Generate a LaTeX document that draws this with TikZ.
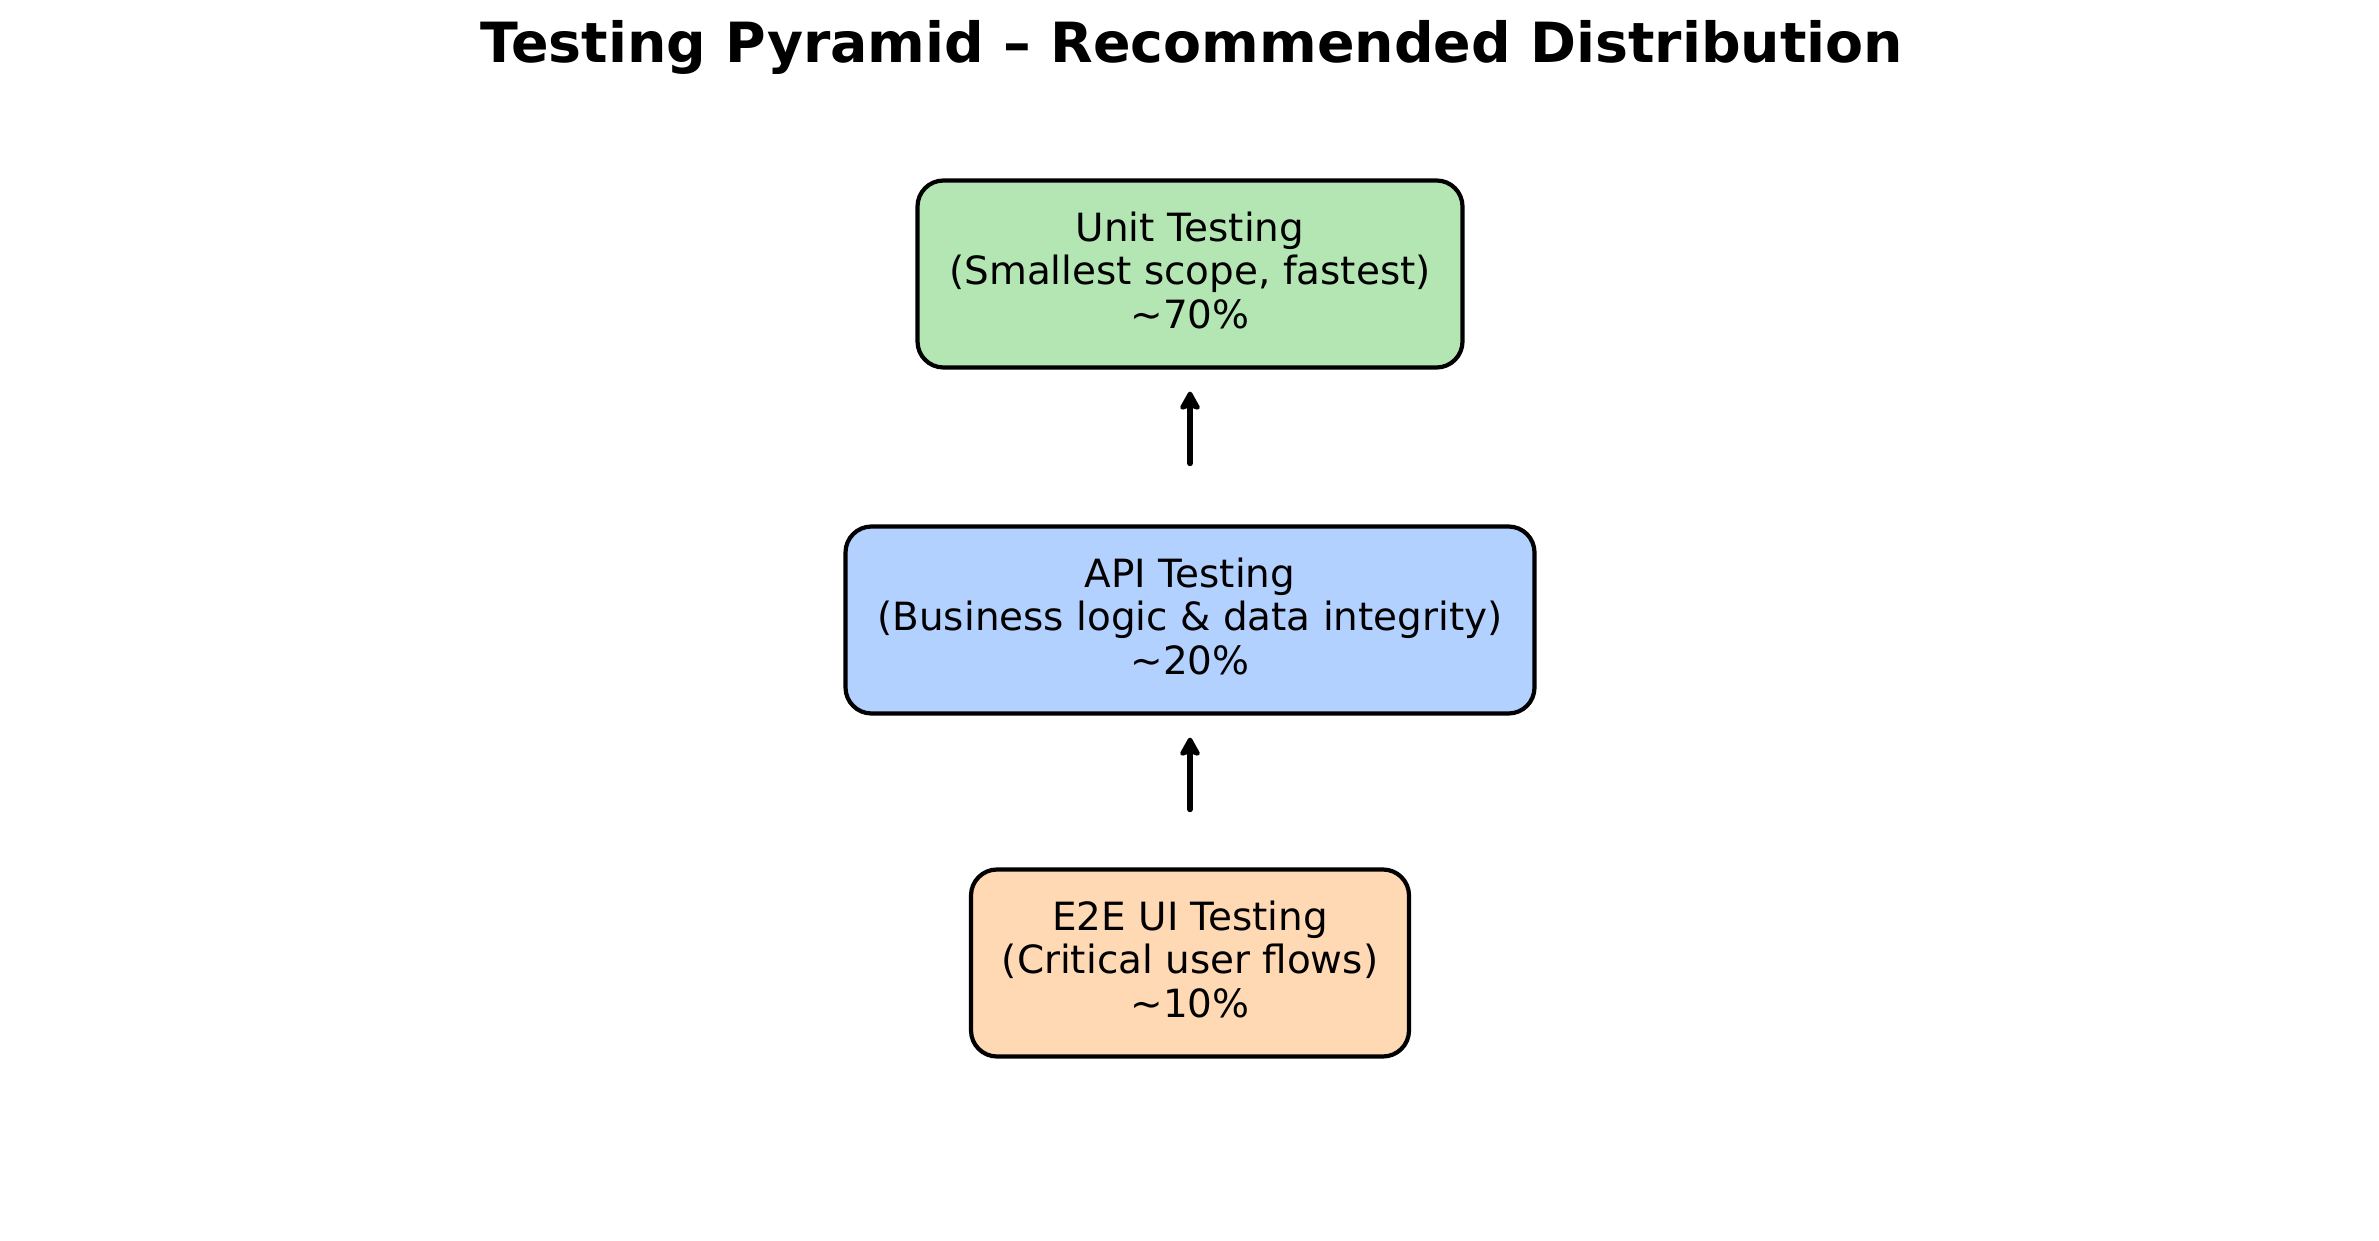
\documentclass[tikz,border=0pt]{standalone}
\usepackage{fontspec}
\setmainfont{DejaVu Sans}
\usetikzlibrary{arrows.meta}
\definecolor{unitgreen}{HTML}{B3E6B3}
\definecolor{apiblue}{HTML}{B3D1FF}
\definecolor{e2eorange}{HTML}{FFD9B3}
\tikzset{
  layerbox/.style={draw=black, line width=4.2pt, rounded corners=26pt,
    align=center, inner sep=0pt, minimum height=187pt, text depth=8pt,
    font=\fontsize{38.9}{43.4}\selectfont},
  uparrow/.style={line width=5.6pt, line cap=round,
    -{Stealth[length=22pt,width=24pt,inset=4pt,round]}},
}
\begin{document}
\begin{tikzpicture}[x=1pt,y=1pt]
\useasboundingbox (0,0) rectangle (2379,1240);
\node[anchor=base, font=\fontsize{55.4}{60}\selectfont\bfseries] (title) at (1192,1177) {Testing Pyramid – Recommended Distribution};
\node[layerbox, fill=unitgreen, minimum width=545pt] (unit) at (1190,966) {Unit Testing\\(Smallest scope, fastest)\\\textasciitilde70\%};
\node[layerbox, fill=apiblue, minimum width=689pt] (api) at (1190,620) {API Testing\\(Business logic \& data integrity)\\\textasciitilde20\%};
\node[layerbox, fill=e2eorange, minimum width=438pt] (e2e) at (1190,277) {E2E UI Testing\\(Critical user flows)\\\textasciitilde10\%};
\draw[uparrow, shorten <=61pt, shorten >=22pt] (api.north) -- (unit.south);
\draw[uparrow, shorten <=58pt, shorten >=22pt] (e2e.north) -- (api.south);
\end{tikzpicture}
\end{document}
